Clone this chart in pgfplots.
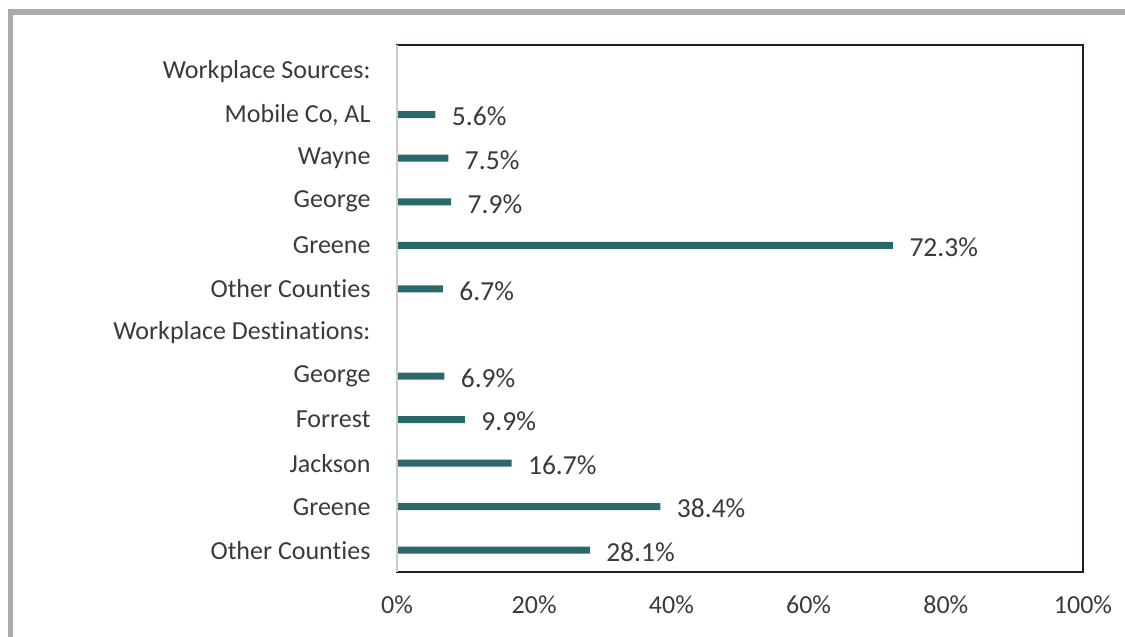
\documentclass[border=0pt]{standalone}
\usepackage{pgfplots}
\pgfplotsset{compat=1.18}
\usepackage{fontspec}
\setmainfont{Carlito}[Ligatures=NoCommon]
\definecolor{barc}{HTML}{2B686C}
\definecolor{txt}{HTML}{3A3A3A}
\definecolor{frame}{HTML}{2A1C1C}
\begin{document}
\begin{tikzpicture}
\useasboundingbox (0pt,0pt) rectangle (1125pt,-637pt);
\fill[black!33] (8pt,-9pt) rectangle (1125pt,-15pt);
\fill[black!33] (8pt,-9pt) rectangle (13pt,-637pt);
\begin{axis}[
  at={(397pt,-572pt)}, anchor=south west,
  scale only axis, width=686pt, height=527pt,
  xbar, bar width=7pt,
  xmin=0, xmax=100, ymin=-0.5, ymax=11.6,
  xtick={0,20,40,60,80,100},
  xticklabels={0\%,20\%,40\%,60\%,80\%,100\%},
  ytick={0,1,2,3,4,5,6,7,8,9,10,11},
  yticklabels={Other Counties,Greene,Jackson,Forrest,George,Workplace Destinations:,Other Counties,Greene,George,Wayne,{Mobile Co, AL},Workplace Sources:},
  major tick length=0pt,
  tick label style={font=\fontsize{26}{30}\selectfont, text=txt},
  xticklabel style={yshift=-20pt},
  yticklabel style={xshift=-23pt},
  axis line style={draw=frame, line width=1.6pt},
  point meta=x,
  /pgf/number format/assume math mode=true,
  nodes near coords={\pgfmathprintnumber[fixed,fixed zerofill,precision=1,assume math mode=true]{\pgfplotspointmeta}\%},
  nodes near coords style={font=\fontsize{27.5}{30}\selectfont, text=txt, anchor=west, xshift=13pt, yshift=-2pt},
  clip=false,
]
\addplot[fill=barc, draw=none] coordinates {
 (28.1,0) (38.4,1) (16.7,2) (9.9,3) (6.9,4)
 (6.7,6) (72.3,7) (7.9,8) (7.5,9) (5.6,10)
};
\draw[black!20, line width=1.5pt] (rel axis cs:0,0) -- (rel axis cs:0,1);
\end{axis}
\end{tikzpicture}
\end{document}
